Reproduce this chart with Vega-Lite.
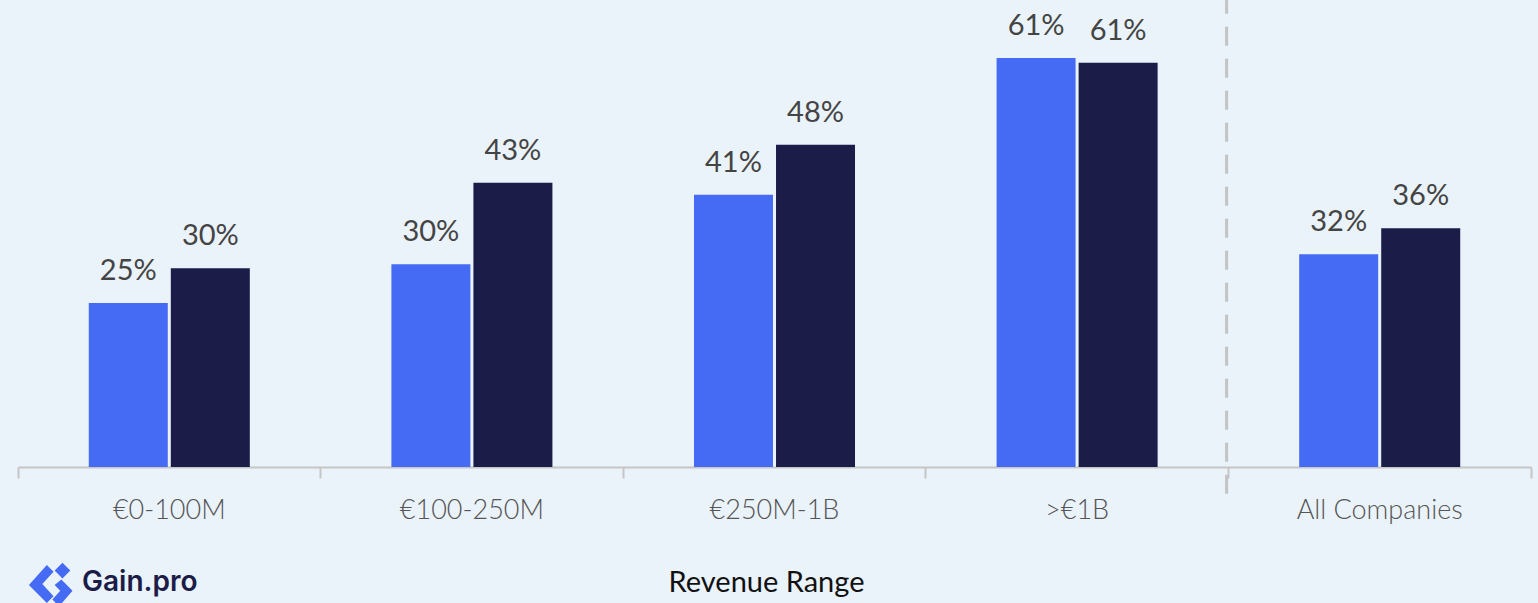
{
  "$schema": "https://vega.github.io/schema/vega-lite/v6.json",
  "width": 1513,
  "height": 467,
  "autosize": {"type": "none"},
  "padding": {"left": 18, "top": 0, "right": 7, "bottom": 136},
  "background": "#EAF2FA",
  "config": {"view": {"stroke": null}, "font": "Lato"},
  "data": {
    "values": [
      {"range": "€0-100M", "series": "Series A", "share": 0.246},
      {"range": "€0-100M", "series": "Series B", "share": 0.298},
      {"range": "€100-250M", "series": "Series A", "share": 0.304},
      {"range": "€100-250M", "series": "Series B", "share": 0.426},
      {"range": "€250M-1B", "series": "Series A", "share": 0.408},
      {"range": "€250M-1B", "series": "Series B", "share": 0.483},
      {"range": ">€1B", "series": "Series A", "share": 0.613},
      {"range": ">€1B", "series": "Series B", "share": 0.606},
      {"range": "All Companies", "series": "Series A", "share": 0.319},
      {"range": "All Companies", "series": "Series B", "share": 0.358}
    ]
  },
  "encoding": {
    "x": {
      "field": "range",
      "type": "nominal",
      "sort": ["€0-100M", "€100-250M", "€250M-1B", ">€1B", "All Companies"],
      "scale": {"paddingInner": 0, "paddingOuter": 0},
      "axis": {
        "title": "Revenue Range",
        "labelAngle": 0,
        "bandPosition": 1,
        "tickExtra": true,
        "domainColor": "#C6C6C6",
        "domainWidth": 2,
        "tickColor": "#C6C6C6",
        "tickWidth": 2,
        "tickSize": 11,
        "labelFont": "Lato",
        "labelFontWeight": 300,
        "labelFontSize": 27,
        "labelColor": "#555555",
        "labelPadding": 19,
        "titleFont": "Lato",
        "titleFontWeight": 400,
        "titleFontSize": 29,
        "titleColor": "#111111",
        "titlePadding": 45,
        "titleX": 748,
        "titleAlign": "center"
      }
    },
    "y": {
      "field": "share",
      "type": "quantitative",
      "scale": {"domain": [0, 0.7], "nice": false, "zero": true},
      "axis": null
    }
  },
  "layer": [
    {
      "mark": {"type": "bar"},
      "encoding": {
        "xOffset": {
          "field": "series",
          "type": "nominal",
          "scale": {"paddingInner": 0.037, "paddingOuter": 0.863}
        },
        "color": {
          "field": "series",
          "type": "nominal",
          "scale": {"domain": ["Series A", "Series B"], "range": ["#456BF4", "#1B1C48"]},
          "legend": null
        }
      }
    },
    {
      "mark": {"type": "text", "baseline": "alphabetic", "dy": -23, "fontSize": 29, "fontWeight": 400, "color": "#444444", "font": "Lato"},
      "encoding": {
        "xOffset": {
          "field": "series",
          "type": "nominal",
          "scale": {"paddingInner": 0.037, "paddingOuter": 0.863}
        },
        "text": {"field": "share", "type": "quantitative", "format": ".0%"}
      }
    },
    {
      "data": {"values": [{"range": "All Companies", "top": 0.7, "bottom": -0.04}]},
      "mark": {"type": "rule", "color": "#C4C4C4", "strokeWidth": 3, "strokeDash": [19, 13]},
      "encoding": {
        "x": {"field": "range", "type": "nominal", "bandPosition": -0.006},
        "y": {"field": "bottom", "type": "quantitative"},
        "y2": {"field": "top"}
      }
    },
    {
      "data": {"values": [{"range": "€0-100M", "brand": "Gain.pro", "ypos": -0.177}]},
      "mark": {
        "type": "point",
        "filled": true,
        "opacity": 1,
        "size": 2000,
        "color": "#456BF4",
        "shape": "M -0.2 -0.9 L 0.1 -0.6 L -0.4 -0.05 L 0.1 0.5 L -0.2 0.8 L -1 0 Z M 0.5 -1 L 0.85 -0.65 L 0.5 -0.3 L 0.15 -0.65 Z M 0.45 -0.25 L 0.95 0.25 L 0.35 0.95 L 0.05 0.65 L 0.4 0.25 L 0.15 0 Z"
      },
      "encoding": {
        "x": {"field": "range", "type": "nominal", "bandPosition": 0.11},
        "y": {"field": "ypos", "type": "quantitative"}
      }
    },
    {
      "data": {"values": [{"range": "€0-100M", "brand": "Gain.pro", "ypos": -0.174}]},
      "mark": {"type": "text", "align": "left", "baseline": "middle", "dx": 64, "fontSize": 28, "fontWeight": 600, "color": "#1B1C48", "font": "Inter"},
      "encoding": {
        "x": {"field": "range", "type": "nominal", "bandPosition": 0},
        "y": {"field": "ypos", "type": "quantitative"},
        "text": {"field": "brand"}
      }
    }
  ]
}
